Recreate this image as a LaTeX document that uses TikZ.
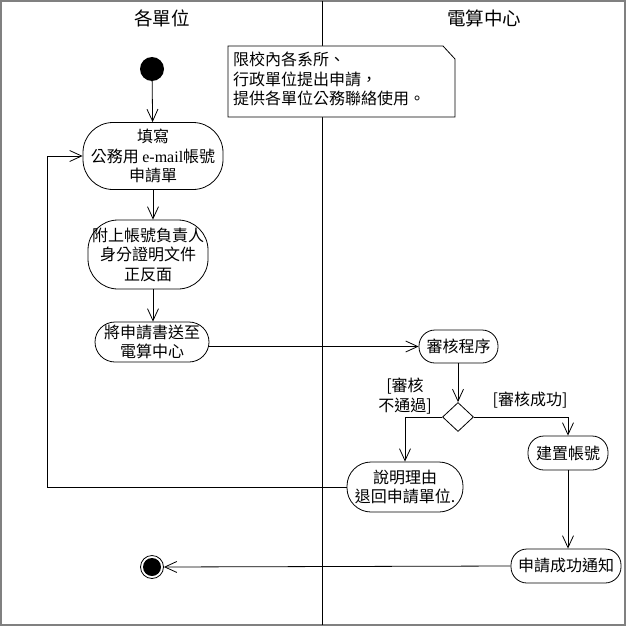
\documentclass[tikz,border=0pt]{standalone}
\usepackage{fontspec}
\setmainfont{Noto Sans CJK TC}
\newfontfamily\latf{Liberation Serif}
\usetikzlibrary{arrows.meta,shapes.geometric}
\tikzset{
  act/.style={draw, line width=0.8pt, align=center, inner sep=0pt, fill=white,
    font=\fontsize{16}{19.5}\selectfont},
  conn/.style={draw, line width=0.8pt, -{Straight Barb[length=12pt,width=11pt,line width=0.8pt]}},
  plain/.style={draw, line width=0.8pt},
  lbl/.style={align=center, inner sep=0pt, font=\fontsize{16}{19.5}\selectfont},
  hdr/.style={inner sep=0pt, font=\fontsize{18.5}{20}\selectfont},
}
\begin{document}
\begin{tikzpicture}[x=1pt,y=-1pt]
\useasboundingbox (0,0) rectangle (626,626);
% frame and lanes
\draw[gray, line width=2pt] (1,1) rectangle (625,625);
\draw[line width=0.8pt] (322,1) -- (322,625);
\node[hdr] (h1) at (162,18) {各單位};
\node[hdr] (h2) at (484,18) {電算中心};
% note
\draw[line width=0.8pt, fill=white] (228,46) -- (443,46) -- (455,59) -- (455,117) -- (228,117) -- cycle;
\node[lbl, align=left, anchor=west] (note) at (233,79) {限校內各系所、\\行政單位提出申請，\\提供各單位公務聯絡使用。};
% start / end
\node[circle, fill=black, minimum size=24pt, inner sep=0pt] (start) at (152,69) {};
\node[circle, draw, line width=0.8pt, minimum size=23pt, inner sep=0pt] (end) at (152,567) {};
\fill (end.center) circle (9);
% activities
\node[act, rounded corners=30pt, minimum width=140pt, minimum height=67pt] (n1) at (153,156) {填寫\\公務用 {\latf e-mail}帳號\\申請單};
\node[act, rounded corners=30pt, minimum width=120pt, minimum height=69pt] (n2) at (148,254.5) {附上帳號負責人\\身分證明文件\\正反面};
\node[act, rounded corners=20pt, minimum width=114pt, minimum height=40pt] (n3) at (152,342) {將申請書送至\\電算中心};
\node[act, rounded corners=16pt, minimum width=79pt, minimum height=33pt] (n4) at (458.5,346.5) {審核程序};
\node[diamond, draw, line width=0.8pt, minimum width=31pt, minimum height=29pt, inner sep=0pt] (dia) at (458,417) {};
\node[act, rounded corners=24pt, minimum width=116pt, minimum height=50pt] (n5) at (405,487) {說明理由\\退回申請單位.};
\node[act, rounded corners=16pt, minimum width=80pt, minimum height=34pt] (n6) at (568,453) {建置帳號};
\node[act, rounded corners=16pt, minimum width=110pt, minimum height=34pt] (n7) at (566,566) {申請成功通知};
% guards
\node[lbl] (g1) at (405,396) {[審核\\不通過]};
\node[lbl] (g2) at (530,400) {[審核成功]};
% connectors
\coordinate (loopx) at (47,0);
\draw[conn] (start) -- (n1);
\draw[conn] (n1.south -| n1.center) -- (n1.center |- n2.north);
\draw[conn] (n1.center |- n2.south) -- (n1.center |- n3.north);
\draw[conn] (n4.west -| n3.east) -- (n4.west);
\draw[conn] (n4.south -| dia.north) -- (dia.north);
\draw[conn] (dia.west) -| (n5.north);
\draw[conn] (dia.east) -| (n6.north);
\draw[conn] (n6.south) -- (n6.south |- n7.north);
\draw[conn] (n7.west) -- (end.east);
\draw[conn] (n5.west) -- (n5.west -| loopx) |- (n1.west);
\end{tikzpicture}
\end{document}
